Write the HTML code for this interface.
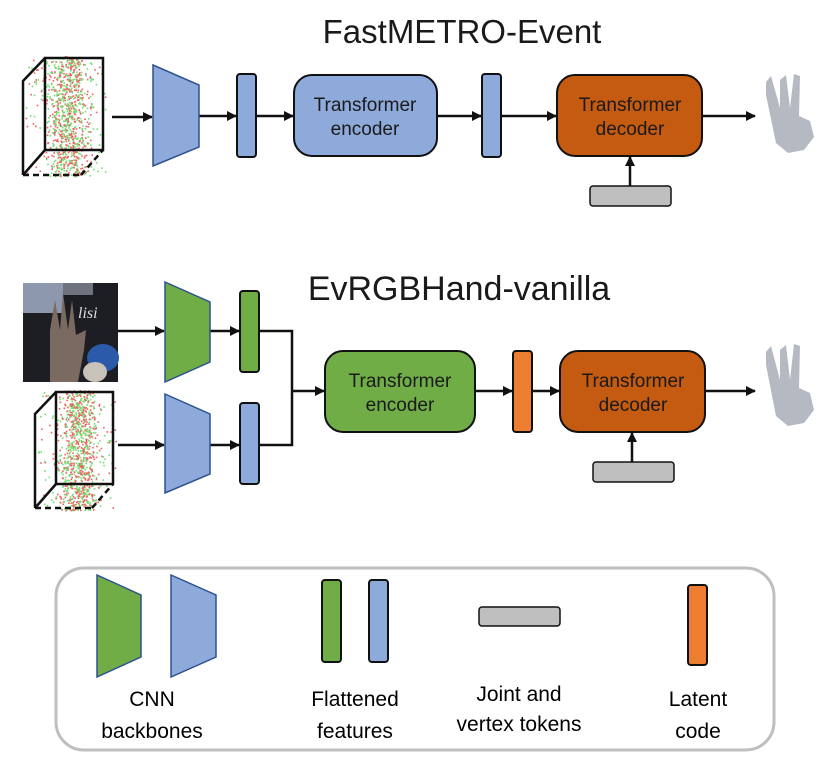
<!DOCTYPE html>
<html><head><meta charset="utf-8"><style>
html,body{margin:0;padding:0;background:#fff;}
svg{display:block;}
.t{font-family:"Liberation Sans",sans-serif;}
</style></head><body>
<svg id="s" width="831" height="770" viewBox="0 0 831 770" xmlns="http://www.w3.org/2000/svg">
<defs>
<marker id="a" markerWidth="10" markerHeight="10" refX="9" refY="5" orient="auto" markerUnits="userSpaceOnUse">
<path d="M0,0 L10,5 L0,10 z" fill="#111"/></marker>
</defs>
<g stroke="#111" stroke-width="2.5" fill="none">
<line x1="112" y1="117" x2="152" y2="117" marker-end="url(#a)"/>
<line x1="199" y1="116" x2="236" y2="116" marker-end="url(#a)"/>
<line x1="256" y1="116" x2="293" y2="116" marker-end="url(#a)"/>
<line x1="437" y1="116" x2="481" y2="116" marker-end="url(#a)"/>
<line x1="501" y1="116" x2="556" y2="116" marker-end="url(#a)"/>
<line x1="702" y1="116" x2="755" y2="116" marker-end="url(#a)"/>
<line x1="630" y1="186" x2="630" y2="157" marker-end="url(#a)"/>
<line x1="118" y1="331" x2="164" y2="331" marker-end="url(#a)"/>
<line x1="210" y1="331" x2="239" y2="331" marker-end="url(#a)"/>
<line x1="118" y1="445" x2="164" y2="445" marker-end="url(#a)"/>
<line x1="210" y1="445" x2="239" y2="445" marker-end="url(#a)"/>
<polyline points="259,331 292,331 292,445 259,445"/>
<line x1="292" y1="391" x2="324" y2="391" marker-end="url(#a)"/>
<line x1="475" y1="391" x2="512" y2="391" marker-end="url(#a)"/>
<line x1="532" y1="391" x2="559" y2="391" marker-end="url(#a)"/>
<line x1="705" y1="391" x2="755" y2="391" marker-end="url(#a)"/>
<line x1="632" y1="462" x2="632" y2="433" marker-end="url(#a)"/>
</g>
<g id="dots1"></g><g id="dots2"></g>
<g stroke="#111" stroke-width="2.5" fill="none">
<rect x="45" y="58" width="58" height="92"/>
<polyline points="45,58 23,81 23,175"/>
<line x1="23" y1="175" x2="45" y2="150"/>
<line x1="23" y1="175" x2="81" y2="175" stroke-dasharray="6,4"/>
<line x1="81" y1="175" x2="103" y2="150" stroke-dasharray="6,4"/>
<rect x="56" y="392" width="57" height="92"/>
<polyline points="56,392 35,414 35,508"/>
<line x1="35" y1="508" x2="56" y2="484"/>
<line x1="35" y1="508" x2="92" y2="508" stroke-dasharray="6,4"/>
<line x1="92" y1="508" x2="113" y2="484" stroke-dasharray="6,4"/>
</g>
<rect x="23" y="283" width="95" height="99" fill="#1c1e24"/>
<rect x="23" y="283" width="40" height="30" fill="#8d97ad"/>
<rect x="63" y="283" width="30" height="12" fill="#6e737f"/>
<path d="M50,382 L50,330 L55,300 L60,330 L63,293 L68,330 L72,300 L76,335 L86,330 L84,350 L78,382z" fill="#7a6a60"/>
<ellipse cx="103" cy="358" rx="16" ry="14" fill="#2a5aa8"/>
<ellipse cx="95" cy="372" rx="12" ry="10" fill="#c9c2b8"/>
<text x="78" y="318" font-size="16" fill="#ddd" font-style="italic" font-family="Liberation Serif, serif">lisi</text>
<g stroke="#2f528f" stroke-width="1.5">
<polygon points="153,65 199,85 199,147 153,166" fill="#8eaadb"/>
<polygon points="165,282 210,302 210,362 165,382" fill="#70ad47"/>
<polygon points="165,394 210,414 210,474 165,493" fill="#8eaadb"/>
<polygon points="97,575 141,595 141,657 97,677" fill="#70ad47"/>
<polygon points="171,575 216,595 216,657 171,677" fill="#8eaadb"/>
</g>
<g stroke="#111" stroke-width="2">
<rect x="237" y="74" width="19" height="83" rx="3" fill="#8eaadb"/>
<rect x="482" y="74" width="19" height="83" rx="3" fill="#8eaadb"/>
<rect x="294" y="75" width="143" height="81" rx="18" fill="#8eaadb"/>
<rect x="557" y="75" width="145" height="81" rx="18" fill="#c55a11"/>
<rect x="590" y="186" width="81" height="20" rx="3" fill="#bfbfbf" stroke-width="1.5"/>
<rect x="240" y="291" width="19" height="81" rx="3" fill="#70ad47"/>
<rect x="240" y="403" width="19" height="81" rx="3" fill="#8eaadb"/>
<rect x="325" y="351" width="150" height="81" rx="18" fill="#70ad47"/>
<rect x="513" y="351" width="19" height="81" rx="3" fill="#ed7d31"/>
<rect x="560" y="351" width="145" height="81" rx="18" fill="#c55a11"/>
<rect x="593" y="462" width="81" height="20" rx="3" fill="#bfbfbf" stroke-width="1.5"/>
<rect x="322" y="580" width="19" height="82" rx="3" fill="#70ad47"/>
<rect x="369" y="580" width="19" height="82" rx="3" fill="#8eaadb"/>
<rect x="479" y="607" width="81" height="19" rx="3" fill="#bfbfbf" stroke-width="1.5"/>
<rect x="688" y="585" width="19" height="80" rx="3" fill="#ed7d31"/>
</g>
<g fill="#b4b9c2">
<path d="M766,82 L771,76 L780,108 L780,80 L786,75 L790,108 L794,74 L800,76 L799,116 L810,121 L814,137 L804,150 L788,153 L776,143 L766,95z"/>
<path d="M766,352 L771,346 L780,380 L780,350 L786,345 L790,380 L794,344 L800,346 L799,388 L810,393 L814,410 L804,423 L788,426 L776,416 L766,365z"/>
</g>
<rect x="56" y="568" width="718" height="182" rx="28" fill="none" stroke="#bfbfbf" stroke-width="3"/>
<g class="t" text-anchor="middle" fill="#1a1a1a">
<text x="462" y="43" font-size="33">FastMETRO-Event</text>
<text x="459" y="300" font-size="34">EvRGBHand-vanilla</text>
<text x="365" y="111" font-size="19">Transformer</text>
<text x="365" y="135" font-size="19">encoder</text>
<text x="630" y="111" font-size="19">Transformer</text>
<text x="630" y="135" font-size="19">decoder</text>
<text x="400" y="387" font-size="19">Transformer</text>
<text x="400" y="411" font-size="19">encoder</text>
<text x="633" y="387" font-size="19">Transformer</text>
<text x="633" y="411" font-size="19">decoder</text>
<g font-size="21" fill="#000">
<text x="152" y="706">CNN</text>
<text x="152" y="738">backbones</text>
<text x="355" y="706">Flattened</text>
<text x="355" y="738">features</text>
<text x="519" y="701">Joint and</text>
<text x="519" y="731">vertex tokens</text>
<text x="698" y="706">Latent</text>
<text x="698" y="738">code</text>
</g>
</g>
</svg>
<script>
(function(){
var seed=7;function r(){seed=(seed*16807)%2147483647;return seed/2147483647;}
function fill(id,x0,y0,cx){
var g=document.getElementById(id),s='';
for(var i=0;i<1000;i++){
var x=cx+(r()+r()+r()-1.5)*20;var y=y0+r()*120;
if(r()<0.12){x=x0+r()*80;}
var c=r()<0.5?'#f06060':'#70e070';
s+='<rect x="'+x.toFixed(1)+'" y="'+y.toFixed(1)+'" width="1.6" height="1.6" fill="'+c+'"/>';}
g.innerHTML=s;}
fill('dots1',25,56,67);
fill('dots2',37,390,79);
})();
</script>
</body></html>
